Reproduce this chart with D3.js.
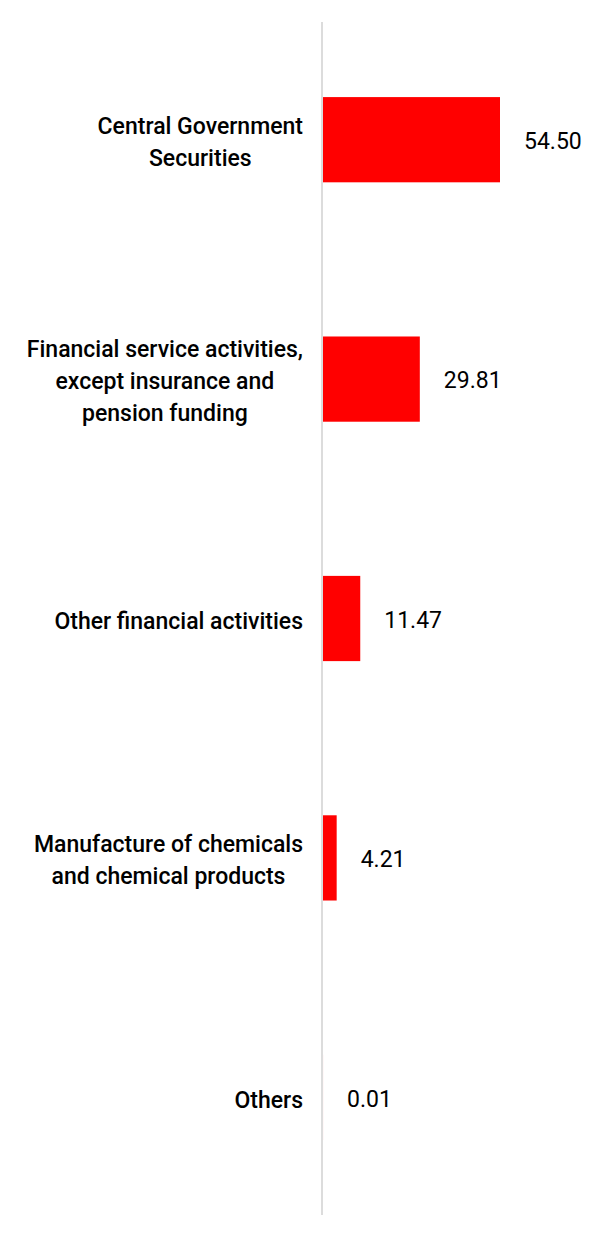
<!DOCTYPE html>
<html>
<head>
<meta charset="utf-8">
<script src="https://cdn.jsdelivr.net/npm/d3@7"></script>
<style>
  html, body { margin: 0; padding: 0; background: #fff; }
  svg { display: block; font-family: Roboto, "Noto Sans", sans-serif; }
</style>
</head>
<body>
<svg id="chart" width="601" height="1247"></svg>
<script>
const categories = [
  ["Central Government", "Securities"],
  ["Financial service activities,", "except insurance and", "pension funding"],
  ["Other financial activities"],
  ["Manufacture of chemicals", "and chemical products"],
  ["Others"]
];
const values = [54.50, 29.81, 11.47, 4.21, 0.01];
const valueLabels = ["54.50", "29.81", "11.47", "4.21", "0.01"];

const svg = d3.select("#chart");
const axisX = 322;
const labelRight = 303;
const fontSize = 23;

const y = d3.scaleBand()
  .domain(d3.range(values.length))
  .range([20, 1217])
  .paddingInner(0.644)
  .paddingOuter(0.322);

const x = d3.scaleLinear()
  .domain([0, 54.5])
  .range([axisX + 1, 500]);

// bars
svg.selectAll("rect.bar")
  .data(values)
  .enter().append("rect")
  .attr("class", "bar")
  .attr("x", x(0))
  .attr("y", (d, i) => y(i))
  .attr("width", d => x(d) - x(0))
  .attr("height", y.bandwidth())
  .attr("fill", "#ff0000");

// axis line
svg.append("line")
  .attr("x1", axisX).attr("x2", axisX)
  .attr("y1", 22).attr("y2", 1215)
  .attr("stroke", "#dcdcdc")
  .attr("stroke-width", 2);

// value labels
svg.selectAll("text.val")
  .data(values)
  .enter().append("text")
  .attr("class", "val")
  .attr("x", d => x(d) + 24)
  .attr("y", (d, i) => y(i) + y.bandwidth() / 2)
  .attr("dy", "0.4em")
  .attr("font-size", fontSize)
  .attr("fill", "#000")
  .text((d, i) => valueLabels[i]);

// category labels (centered multi-line, right edge at labelRight)
const lineH = 32;
categories.forEach((lines, i) => {
  const cy = y(i) + y.bandwidth() / 2;
  const g = svg.append("text")
    .attr("font-size", fontSize)
    .attr("font-weight", 500)
    .attr("fill", "#000")
    .attr("text-anchor", "middle");
  const tspans = lines.map((ln, k) =>
    g.append("tspan")
      .attr("y", cy + (k - (lines.length - 1) / 2) * lineH)
      .attr("dy", "0.45em")
      .text(ln));
  const maxW = d3.max(tspans, t => t.node().getComputedTextLength());
  tspans.forEach(t => t.attr("x", labelRight - maxW / 2));
});
</script>
</body>
</html>
